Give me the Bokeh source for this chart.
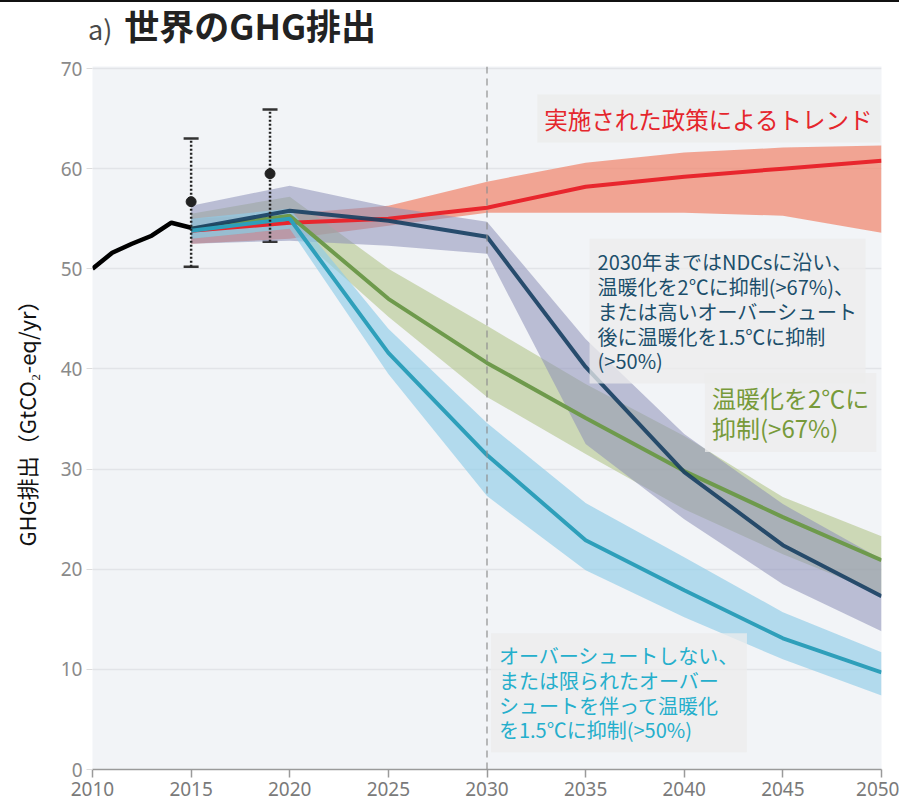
from bokeh.plotting import figure
from bokeh.models import Range1d, Label, FixedTicker, Span, Whisker, ColumnDataSource, Div
from bokeh.layouts import column
from bokeh.embed import file_html
from bokeh.resources import INLINE

# ---------------- data ----------------
hist_years = [2010, 2011, 2012, 2013, 2014, 2015]
hist_vals = [50.0, 51.6, 52.5, 53.3, 54.6, 54.1]

scen_years = [2015, 2020, 2025, 2030, 2035, 2040, 2045, 2050]

policy_mid = [53.8, 54.6, 55.0, 56.1, 58.2, 59.2, 60.0, 60.8]
policy_lo = [52.5, 53.0, 54.3, 55.6, 55.6, 55.6, 55.3, 53.6]
policy_hi = [55.0, 55.5, 56.3, 58.7, 60.6, 61.6, 62.1, 62.3]

ndc_mid = [54.0, 55.8, 54.8, 53.2, 40.2, 29.7, 22.4, 17.3]
ndc_lo = [52.5, 52.8, 52.3, 51.5, 32.5, 25.0, 18.5, 13.8]
ndc_hi = [56.3, 58.3, 56.2, 54.7, 43.0, 33.5, 26.5, 21.0]

c2_mid = [54.0, 55.3, 47.0, 40.6, 35.1, 29.8, 25.2, 20.9]
c2_lo = [53.0, 54.0, 45.2, 37.2, 31.5, 26.0, 21.5, 17.5]
c2_hi = [55.5, 57.2, 50.0, 44.3, 38.5, 33.3, 27.2, 23.3]

c15_mid = [53.8, 55.0, 41.6, 31.4, 22.9, 17.9, 13.1, 9.7]
c15_lo = [53.0, 54.0, 39.5, 27.3, 19.9, 15.2, 11.0, 7.4]
c15_hi = [55.0, 56.0, 44.0, 34.6, 26.6, 21.2, 15.7, 11.7]

err_years = [2015, 2019]
err_mid = [56.7, 59.5]
err_lo = [50.2, 52.7]
err_hi = [63.0, 65.9]

x_ticks = [2010, 2015, 2020, 2025, 2030, 2035, 2040, 2045, 2050]
y_ticks = [0, 10, 20, 30, 40, 50, 60, 70]

title_prefix = "a)"
title_text = "世界のGHG排出"
y_label = "GHG排出（GtCO₂-eq/yr）"
lbl_policy = "実施された政策によるトレンド"
lbl_ndc = "2030年まではNDCsに沿い、\n温暖化を2℃に抑制(>67%)、\nまたは高いオーバーシュート\n後に温暖化を1.5℃に抑制\n(>50%)"
lbl_2c = "温暖化を2℃に\n抑制(>67%)"
lbl_15 = "オーバーシュートしない、\nまたは限られたオーバー\nシュートを伴って温暖化\nを1.5℃に抑制(>50%)"

# ---------------- layout ----------------
JP = "Noto Sans CJK JP"
NARROW = "'Liberation Sans Narrow', 'Arial Narrow', 'Noto Sans'"

title_div = Div(
    text=(f'<div style="font-family:\'Noto Sans CJK JP\';padding-left:88px;padding-top:2px;'
          f'line-height:42px;white-space:nowrap;">'
          f'<span style="font-size:27px;color:#4a4a4a;margin-right:12px;">{title_prefix}</span>'
          f'<span style="font-size:35px;font-weight:bold;color:#222222;">{title_text}</span></div>'),
    width=899, height=48,
    styles={"border-top": "2.5px solid #111111", "margin": "0"})

p = figure(width=899, height=755, output_backend="svg", toolbar_location=None,
           x_range=Range1d(2010, 2050), y_range=Range1d(0, 70.2),
           min_border_left=92, min_border_right=18, min_border_top=18, min_border_bottom=34)
p.background_fill_color = "#f2f4f7"
p.border_fill_color = "white"
p.outline_line_color = None

p.xgrid.grid_line_color = None
p.ygrid.grid_line_color = "#e2e4e8"
p.ygrid.grid_line_width = 1.5
p.ygrid.ticker = FixedTicker(ticks=y_ticks)

p.xaxis.ticker = FixedTicker(ticks=x_ticks)
p.xaxis.axis_line_color = "#9a9a9a"
p.xaxis.axis_line_width = 1.5
p.xaxis.major_tick_line_color = "#9a9a9a"
p.xaxis.major_tick_line_width = 1.5
p.xaxis.major_tick_out = 8
p.xaxis.major_tick_in = 0
p.xaxis.minor_tick_line_color = None
p.xaxis.major_label_text_font = NARROW
p.xaxis.major_label_text_font_size = "19px"
p.xaxis.major_label_text_color = "#7a7a7a"
p.xaxis.major_label_standoff = 4

p.yaxis.ticker = FixedTicker(ticks=y_ticks)
p.yaxis.axis_line_color = None
p.yaxis.major_tick_line_color = "#dcdcdc"
p.yaxis.major_tick_out = 6
p.yaxis.major_tick_in = 0
p.yaxis.minor_tick_line_color = None
p.yaxis.major_label_text_font = NARROW
p.yaxis.major_label_text_font_size = "19px"
p.yaxis.major_label_text_color = "#8a8a8a"
p.yaxis.major_label_standoff = 4
p.yaxis.axis_label = y_label
p.yaxis.axis_label_text_font = JP
p.yaxis.axis_label_text_font_style = "normal"
p.yaxis.axis_label_text_font_size = "22px"
p.yaxis.axis_label_text_color = "#111111"
p.yaxis.axis_label_standoff = 16

# bands
p.varea(x=scen_years, y1=policy_lo, y2=policy_hi, fill_color="#f08a72", fill_alpha=0.75)
p.varea(x=scen_years, y1=c2_lo, y2=c2_hi, fill_color="#b3c48a", fill_alpha=0.6)
p.varea(x=scen_years, y1=ndc_lo, y2=ndc_hi, fill_color="#8d8fb8", fill_alpha=0.55)
p.varea(x=scen_years, y1=c15_lo, y2=c15_hi, fill_color="#8fcde8", fill_alpha=0.65)

# 2030 marker
p.add_layout(Span(location=2030, dimension="height", line_color="#8f8f8f",
                  line_dash="7 5", line_width=1.2))

# lines
p.line(scen_years, policy_mid, line_color="#e8262d", line_width=4)
p.line(scen_years, c2_mid, line_color="#6e9a4c", line_width=4)
p.line(scen_years, ndc_mid, line_color="#173f62", line_width=4, line_alpha=0.9)
p.line(scen_years, c15_mid, line_color="#2e9fba", line_width=4)
p.line(hist_years, hist_vals, line_color="black", line_width=4.5)

# error bars
p.segment(x0=err_years, y0=err_lo, x1=err_years, y1=err_hi, line_color="#222222",
          line_width=2.5, line_dash="2 2")
src = ColumnDataSource(dict(x=err_years, lo=err_lo, hi=err_hi))
w = Whisker(base="x", lower="lo", upper="hi", source=src, line_color=None,
            line_width=0)
w.upper_head.size = 15
w.lower_head.size = 15
w.upper_head.line_color = "#333333"
w.lower_head.line_color = "#333333"
w.upper_head.line_width = 2.5
w.lower_head.line_width = 2.5
p.add_layout(w)
p.scatter(err_years, err_mid, size=10, color="#222222")

# annotations
p.add_layout(Label(x=2032.55, y=65.0, text=lbl_policy, text_font=JP, text_font_size="23.5px",
                   text_color="#e5262c", text_baseline="middle",
                   background_fill_color="#ececec", background_fill_alpha=0.85, padding=7))
p.add_layout(Label(x=2035.2, y=53.0, text=lbl_ndc, text_font=JP, text_font_size="20px",
                   text_color="#1c4f6b", text_baseline="top", text_line_height=0.86,
                   background_fill_color="#ececec", background_fill_alpha=0.75, padding=8))
p.add_layout(Label(x=2041.05, y=39.6, text=lbl_2c, text_font=JP, text_font_size="24px",
                   text_color="#779a3a", text_baseline="top", text_line_height=0.86,
                   background_fill_color="#ececec", background_fill_alpha=0.75, padding=7))
p.add_layout(Label(x=2030.2, y=13.6, text=lbl_15, text_font=JP, text_font_size="20px",
                   text_color="#25afcc", text_baseline="top", text_line_height=0.85,
                   background_fill_color="#ececec", background_fill_alpha=0.75, padding=8))

layout = column(title_div, p, spacing=0)
open("out.html", "w").write(file_html(layout, INLINE))
